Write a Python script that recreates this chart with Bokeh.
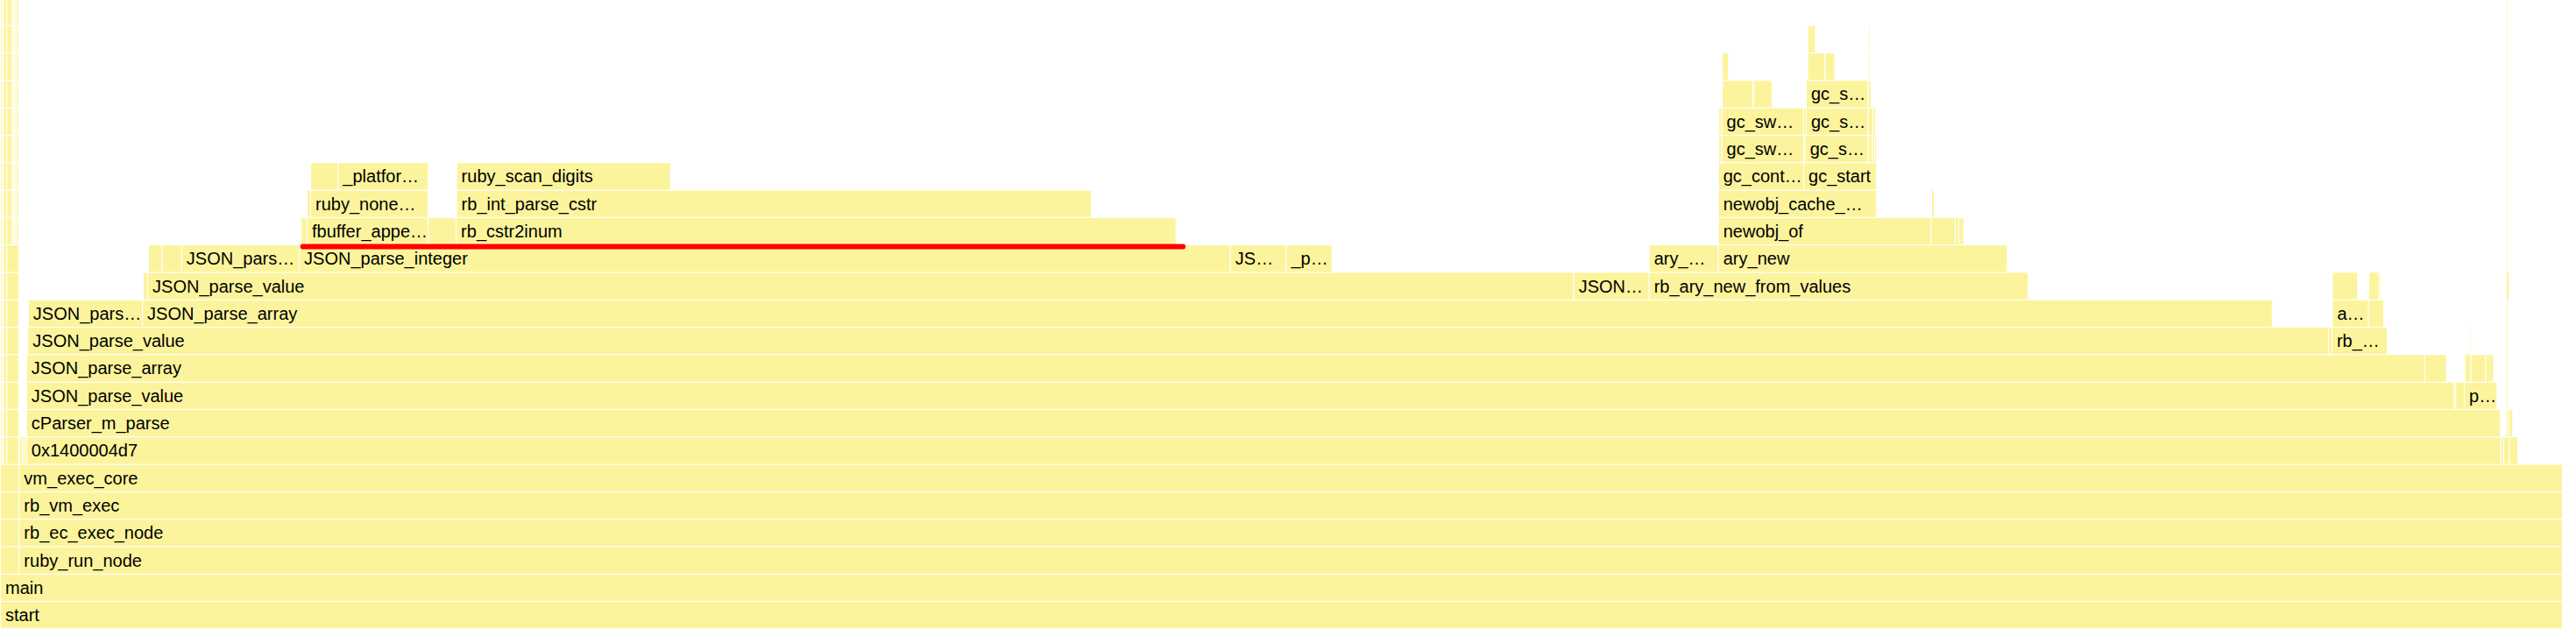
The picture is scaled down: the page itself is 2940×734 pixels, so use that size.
from bokeh.plotting import figure
from bokeh.models import Range1d, ColumnDataSource
from bokeh.core.properties import value
from bokeh.embed import file_html
from bokeh.resources import INLINE

# ---- data: flame-graph frames (sample offsets, stack depth) ----
TOTAL_SAMPLES = 2940

frame_names = []
frame_starts = []
frame_ends = []
frame_depths = []

def add(depth, rows):
    for name, s, e in rows:
        frame_names.append(name)
        frame_starts.append(s)
        frame_ends.append(e)
        frame_depths.append(depth)

depth0 = [("start", 0, 2940)]
depth1 = [("main", 0, 2940)]
depth2 = [("", 0, 21.5), ("ruby_run_node", 21.5, 2940)]
depth3 = [("", 0, 21.5), ("rb_ec_exec_node", 21.5, 2940)]
depth4 = [("", 0, 21.5), ("rb_vm_exec", 21.5, 2940)]
depth5 = [("", 0, 21.5), ("vm_exec_core", 21.5, 2940)]
left_low = [("", 0, 1.7), ("", 1.7, 3.3), ("", 3.3, 7.3), ("", 7.3, 21)]
left_high = [("", 0, 1.7), ("", 1.7, 3.3), ("", 3.3, 7.3), ("", 7.3, 13.3),
             ("", 13.3, 15), ("", 15, 16.7), ("", 16.7, 18.3), ("", 18.3, 20.7)]
depth6 = [("", 22, 25), ("", 25, 27.3), ("", 27.3, 30), ("0x1400004d7", 30, 2869.5),
          ("", 2869.5, 2872.5), ("", 2872.5, 2879), ("", 2879, 2889)]
depth7 = [("cParser_m_parse", 30, 2869), ("", 2876, 2878.7), ("", 2878.7, 2883)]
depth8 = [("JSON_parse_value", 30, 2815.5), ("", 2815.5, 2817.5), ("", 2817.5, 2827.5),
          ("p…", 2827.5, 2865), ("", 2875.7, 2877.5)]
depth9 = [("JSON_parse_array", 30, 2782), ("", 2782, 2807), ("", 2828, 2835),
          ("", 2835, 2852), ("", 2852, 2861), ("", 2875.7, 2877.5)]
depth10 = [("", 30, 31.5), ("JSON_parse_value", 31.5, 2671.5), ("", 2671.5, 2675.5),
           ("rb_…", 2675.5, 2739), ("", 2834, 2835.5), ("", 2875.7, 2877.5)]
depth11 = [("JSON_pars…", 32, 163), ("JSON_parse_array", 163, 2607), ("a…", 2676, 2717.5),
           ("", 2717.5, 2735), ("", 2875.7, 2877.5)]
depth12 = [("", 164, 169), ("JSON_parse_value", 169, 1805.5), ("JSON…", 1805.5, 1892),
           ("rb_ary_new_from_values", 1892, 2327), ("", 2676, 2705), ("", 2718, 2729.5),
           ("", 2729.5, 2731.5), ("", 2875.7, 2879)]
depth13 = [("", 170, 185.5), ("", 185.5, 208), ("JSON_pars…", 208, 343),
           ("JSON_parse_integer", 343, 1411.5), ("JS…", 1411.5, 1475.5), ("_p…", 1475.5, 1528),
           ("ary_…", 1892, 1971.5), ("ary_new", 1971.5, 2303), ("", 2875.7, 2877.3)]
depth14 = [("", 345, 352), ("fbuffer_appe…", 352, 491), ("", 491, 523),
           ("rb_cstr2inum", 523, 1349), ("newobj_of", 1971.5, 2215.5), ("", 2215.5, 2243.5),
           ("", 2243.5, 2247.5), ("", 2247.5, 2253), ("", 2875.7, 2877.3)]
depth15 = [("", 352, 356), ("ruby_none…", 356, 491), ("rb_int_parse_cstr", 523.5, 1252),
           ("newobj_cache_…", 1971.5, 2153), ("", 2216, 2219), ("", 2875.7, 2877.3)]
depth16 = [("", 356, 387.5), ("_platfor…", 387.5, 491), ("ruby_scan_digits", 523.5, 769),
           ("gc_cont…", 1971.5, 2069.3), ("gc_start", 2069.3, 2153), ("", 2875.7, 2877.3)]
depth17 = [("", 1972, 1975.3), ("gc_sw…", 1975.3, 2069.3), ("", 2069.3, 2071),
           ("gc_s…", 2071, 2143.3), ("", 2143.3, 2148.3), ("", 2148.3, 2150.7),
           ("", 2150.7, 2153), ("", 2875.7, 2877.3)]
depth18 = [("", 1972, 1975.3), ("gc_sw…", 1975.3, 2069.3), ("", 2069.3, 2072.3),
           ("gc_s…", 2072.3, 2143.3), ("", 2143.3, 2149), ("", 2149, 2152), ("", 2875.7, 2877.3)]
depth19 = [("", 1976, 2011), ("", 2011.7, 2033), ("gc_s…", 2072.3, 2143.3),
           ("", 2143.3, 2146.7), ("", 2875.7, 2877.3)]
depth20 = [("", 1976, 1983), ("", 2074, 2093.3), ("", 2093.7, 2105), ("", 2144, 2145.3),
           ("", 2875.7, 2877.3)]
depth21 = [("", 2074, 2082.7), ("", 2144, 2145.3), ("", 2875.7, 2877.3)]
depth22 = [("", 2875.7, 2877.3)]

# highlighted range (red marker on top of JSON_parse_integer)
highlight_start = 347
highlight_end = 1357
highlight_depth = 13

levels = [depth0, depth1, depth2, depth3, depth4, depth5, depth6, depth7, depth8, depth9,
          depth10, depth11, depth12, depth13, depth14, depth15, depth16, depth17, depth18,
          depth19, depth20, depth21, depth22]
for d, rows in enumerate(levels):
    extra = []
    if 6 <= d <= 13:
        extra = left_low
    elif d >= 14:
        extra = left_high
    add(d, extra + rows)

# ---- figure ----
W, H = 2924, 718
p = figure(width=W, height=H, x_range=Range1d(0, TOTAL_SAMPLES),
           y_range=Range1d(-0.022, 22.916), output_backend="svg",
           toolbar_location=None, x_axis_location=None, y_axis_location=None,
           min_border=0)
p.grid.visible = False
p.outline_line_color = None
p.background_fill_color = "white"
p.border_fill_color = "white"

src = ColumnDataSource(dict(
    left=frame_starts, right=frame_ends,
    bottom=frame_depths, top=[d + 1 for d in frame_depths],
    name=frame_names,
))
p.quad(left="left", right="right", bottom="bottom", top="top", source=src,
       fill_color="#FBF49C", line_color="white", line_width=1)

lab_idx = [i for i, n in enumerate(frame_names) if n]
lab_src = ColumnDataSource(dict(
    x=[frame_starts[i] + 5.5 for i in lab_idx],
    y=[frame_depths[i] + 0.5 for i in lab_idx],
    text=[frame_names[i] for i in lab_idx],
))
p.text(x="x", y="y", text="text", source=lab_src, text_font=value("Liberation Sans"),
       text_font_size="20px", text_color="#000000", text_align="left",
       text_baseline="middle")

hy = highlight_depth + 1 - 2.0 / 32
p.segment(x0=[highlight_start], y0=[hy], x1=[highlight_end], y1=[hy],
          line_color="#FF0000", line_width=6, line_cap="round")

open("out.html", "w").write(file_html(p, INLINE))
